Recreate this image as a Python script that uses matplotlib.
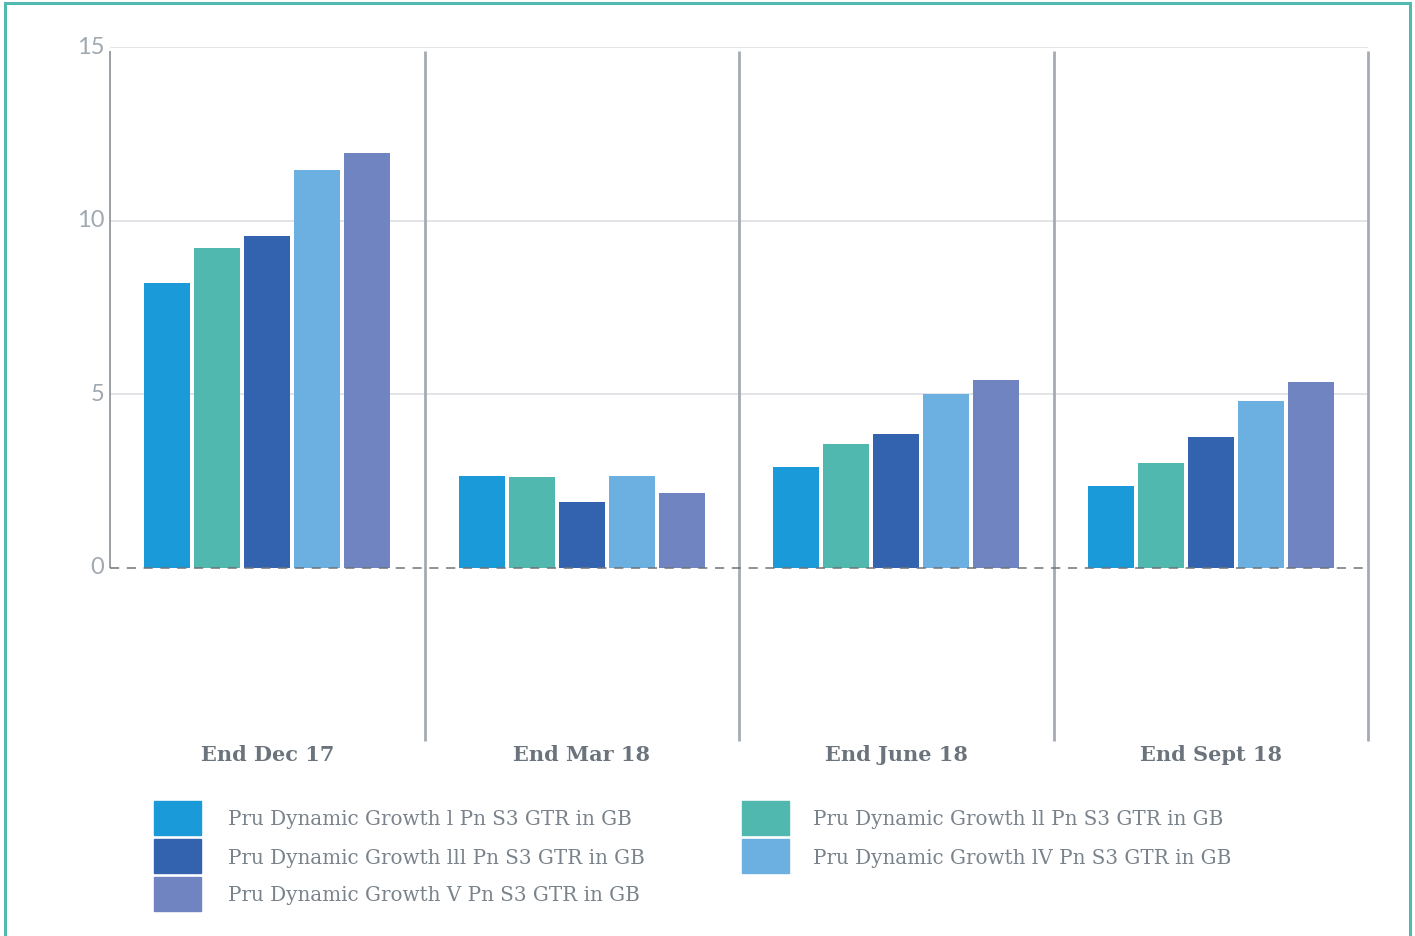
"""Quarterly returns of the Pru Dynamic Growth pension funds, grouped bar chart."""

import matplotlib

matplotlib.use("Agg")
import matplotlib.pyplot as plt
import numpy as np
from matplotlib.patches import Rectangle
from matplotlib.transforms import ScaledTranslation

periods = ["End Dec 17", "End Mar 18", "End June 18", "End Sept 18"]
fund_names = [
    "Pru Dynamic Growth l Pn S3 GTR in GB",
    "Pru Dynamic Growth ll Pn S3 GTR in GB",
    "Pru Dynamic Growth lll Pn S3 GTR in GB",
    "Pru Dynamic Growth lV Pn S3 GTR in GB",
    "Pru Dynamic Growth V Pn S3 GTR in GB",
]
growth_1 = [8.2, 2.65, 2.9, 2.35]
growth_2 = [9.2, 2.6, 3.55, 3.0]
growth_3 = [9.55, 1.9, 3.85, 3.75]
growth_4 = [11.45, 2.65, 5.0, 4.8]
growth_5 = [11.95, 2.15, 5.4, 5.35]
y_ticks = [0, 5, 10, 15]

colors = ["#1a9ad8", "#50b8af", "#3363ae", "#6bb0e0", "#7184c2"]
series = [growth_1, growth_2, growth_3, growth_4, growth_5]

fig = plt.figure(figsize=(14.15, 9.37), dpi=100)
ax = fig.add_axes([110 / 1415, 1 - 742 / 937, 1258 / 1415, 694 / 937])

step = 50 / 314.5
width = 46 / 314.5
centers = np.arange(len(periods)) + 0.5
for i, (values, color) in enumerate(zip(series, colors)):
    ax.bar(centers + (i - 2) * step, values, width=width, color=color, zorder=3)

ax.set_xlim(0, len(periods))
ax.set_ylim(-5, 15)

# grid, zero line and separators
for y in y_ticks[1:]:
    ax.hlines(y, 0, len(periods), color="#dfe2e6", linewidth=1.3, zorder=1)
ax.hlines(0, 0, len(periods), color="#6b747c", linewidth=1.1, linestyles=(0, (6, 5)), zorder=4)
ax.vlines(0, 0, 14.88, color="#8a9096", linewidth=1.2, zorder=2, clip_on=False)
ax.vlines(np.arange(1, len(periods) + 1), -5, 14.88, color="#a4abb2", linewidth=2.0, zorder=2,
          clip_on=False)

for spine in ax.spines.values():
    spine.set_visible(False)

ax.set_yticks(y_ticks)
ax.set_yticklabels([str(t) for t in y_ticks], color="#a0a8b0", fontsize=17, family="Lato")
ax.tick_params(axis="y", length=0, pad=4)
for label in ax.get_yticklabels():
    label.set_transform(label.get_transform() + ScaledTranslation(0, 3 / 100, fig.dpi_scale_trans))
ax.set_xticks(centers)
ax.set_xticklabels(periods, color="#6b747c", fontsize=15, family="DejaVu Serif",
                   fontweight="bold")
ax.tick_params(axis="x", length=0, pad=2)

# legend, two columns
legend_slots = [(154, 819, 228), (742, 819, 813), (154, 857, 228), (742, 857, 813), (154, 895, 228)]
for idx, (px, py, tx) in enumerate(legend_slots):
    fig.add_artist(Rectangle((px / 1415, 1 - (py + 17) / 937), 47 / 1415, 34 / 937,
                             transform=fig.transFigure, color=colors[idx]))
    fig.text(tx / 1415, 1 - (py + 1) / 937, fund_names[idx], color="#7a838b", fontsize=14.3,
             family="DejaVu Serif", va="center", ha="left")

# teal frame
fig.add_artist(Rectangle((5 / 1415, -0.02), 1405 / 1415, 1.02 - 4 / 937, transform=fig.transFigure,
                         fill=False, edgecolor="#52b9b0", linewidth=2.2))

fig.savefig("out.png", dpi=100)
